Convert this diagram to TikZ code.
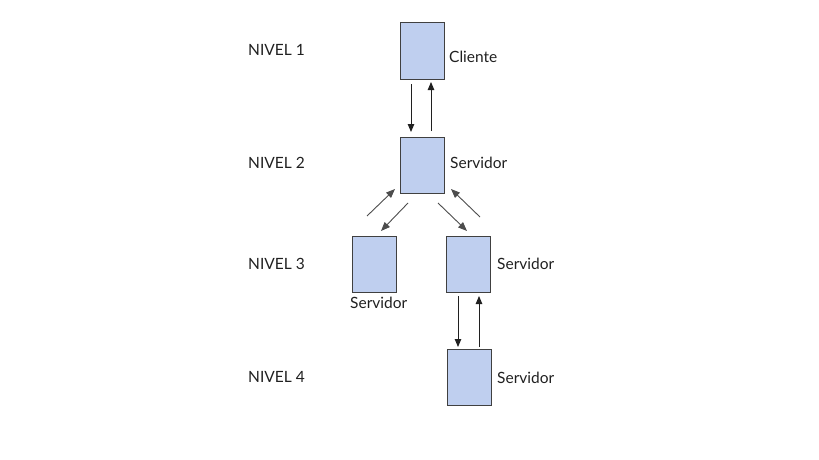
\documentclass[tikz,border=0pt]{standalone}
\usepackage{fontspec}
\setmainfont{Lato}
\usetikzlibrary{arrows.meta}
\definecolor{boxfill}{HTML}{BFCFEF}
\definecolor{boxline}{HTML}{404040}
\definecolor{txt}{HTML}{202020}
\begin{document}
\begin{tikzpicture}[x=1pt,y=-1pt,
  srv/.style={draw=boxline,fill=boxfill,line width=1pt,inner sep=0pt,minimum width=44pt,minimum height=56pt},
  lbl/.style={text=txt,font=\fontsize{15.5}{17}\selectfont,inner sep=0pt,anchor=west},
  conn/.style={draw=txt,line width=0.9pt,-{Triangle[length=8pt,width=6.5pt]}},
  diag/.style={draw=txt!80,line width=0.9pt,-{Triangle[length=9pt,width=7pt]}}]
\useasboundingbox (0,0) rectangle (819,460);
% boxes
\node[srv] (c)  at (422,51) {};
\node[srv] (s2) at (422.5,165.5) {};
\node[srv] (s3a) at (374,264) {};
\node[srv] (s3b) at (468,264.5) {};
\node[srv] (s4) at (469.5,377.5) {};
% labels
\node[lbl] (n1) at (248,50) {NIVEL 1};
\node[lbl] (n2) at (248,163) {NIVEL 2};
\node[lbl] (n3) at (248,264) {NIVEL 3};
\node[lbl] (n4) at (248,377) {NIVEL 4};
\node[lbl] (lc) at (449,57) {Cliente};
\node[lbl] (l2) at (450,163) {Servidor};
\node[lbl] (l3a) at (350,303) {Servidor};
\node[lbl] (l3b) at (497,264) {Servidor};
\node[lbl] (l4) at (497,378) {Servidor};
% arrow end points
\coordinate (v1a) at (411,84);  \coordinate (v1b) at (411,132);
\coordinate (v2a) at (431,131); \coordinate (v2b) at (431,82);
\coordinate (v3a) at (458,296); \coordinate (v3b) at (458,347);
\coordinate (v4a) at (479,347); \coordinate (v4b) at (479,296);
\coordinate (d1a) at (367,216); \coordinate (d1b) at (395,189);
\coordinate (d2a) at (408,203); \coordinate (d2b) at (381,231);
\coordinate (d3a) at (438,203); \coordinate (d3b) at (467,231);
\coordinate (d4a) at (480,217); \coordinate (d4b) at (451,189);
% vertical arrows
\draw[conn] (v1a) -- (v1b);
\draw[conn] (v2a) -- (v2b);
\draw[conn] (v3a) -- (v3b);
\draw[conn] (v4a) -- (v4b);
% diagonal arrows
\draw[diag] (d1a) -- (d1b);
\draw[diag] (d2a) -- (d2b);
\draw[diag] (d3a) -- (d3b);
\draw[diag] (d4a) -- (d4b);
\end{tikzpicture}
\end{document}
